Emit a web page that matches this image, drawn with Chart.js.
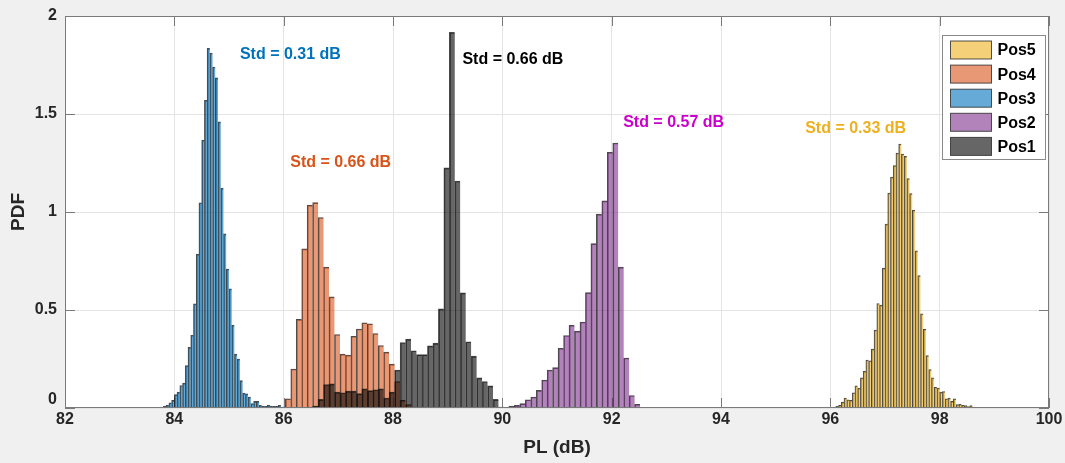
<!DOCTYPE html>
<html>
<head>
<meta charset="utf-8">
<title>PL histogram</title>
<script src="https://cdn.jsdelivr.net/npm/chart.js@4.4.1/dist/chart.umd.min.js"></script>
<style>
  html, body { margin: 0; padding: 0; background: #f0f0f0; }
  #wrap { width: 1065px; height: 463px; position: relative; }
</style>
</head>
<body>
<div id="wrap"><canvas id="plChart"></canvas></div>
<script>
// ==================== Data ====================
// each histogram: left edge of first bin, bin width (dB), PDF per bin
const pos1Start = 86.53, pos1Width = 0.1;
const pos1Pdf = [0.010, 0.044, 0.120, 0.123, 0.081, 0.078, 0.086, 0.086, 0.073, 0.098,
  0.089, 0.093, 0.098, 0.051, 0.081, 0.194, 0.334, 0.351, 0.292, 0.272,
  0.272, 0.317, 0.331, 0.506, 1.225, 1.917, 1.158, 0.587, 0.338, 0.265,
  0.154, 0.135, 0.113, 0.044, 0.005];

const pos2Start = 90.02, pos2Width = 0.1;
const pos2Pdf = [0.004, 0.010, 0.013, 0.022, 0.042, 0.056, 0.090, 0.143, 0.194, 0.206,
  0.305, 0.370, 0.422, 0.392, 0.439, 0.589, 0.839, 0.989, 1.057, 1.305,
  1.352, 0.719, 0.255, 0.064, 0.019, 0.003, 0.003, 0.003];

const pos3Start = 83.75, pos3Width = 0.05;
const pos3Pdf = [0.005, 0.010, 0.014, 0.027, 0.039, 0.068, 0.081, 0.115, 0.127, 0.216,
  0.309, 0.371, 0.532, 0.785, 1.047, 1.367, 1.570, 1.835, 1.811, 1.740,
  1.684, 1.460, 1.122, 0.888, 0.709, 0.608, 0.422, 0.275, 0.250, 0.140,
  0.076, 0.072, 0.056, 0.022, 0.034, 0.034, 0.014, 0.010, 0.008, 0.014,
  0.010, 0.008, 0.010, 0.014, 0.005];

const pos4Start = 85.93, pos4Width = 0.1;
const pos4Pdf = [0.005, 0.047, 0.199, 0.452, 0.812, 1.035, 1.048, 0.972, 0.719, 0.567,
  0.375, 0.275, 0.270, 0.366, 0.403, 0.435, 0.430, 0.380, 0.319, 0.285,
  0.224, 0.135, 0.039, 0.017, 0.005];

const pos5Start = 96.10, pos5Width = 0.05;
const pos5Pdf = [0.008, 0.014, 0.030, 0.050, 0.042, 0.039, 0.078, 0.113, 0.101, 0.154,
  0.187, 0.245, 0.241, 0.300, 0.397, 0.533, 0.525, 0.714, 0.938, 1.097,
  1.178, 1.237, 1.300, 1.347, 1.296, 1.284, 1.170, 1.094, 1.009, 0.802,
  0.675, 0.481, 0.402, 0.267, 0.196, 0.154, 0.106, 0.101, 0.081, 0.084,
  0.047, 0.050, 0.034, 0.047, 0.017, 0.019, 0.014, 0.012, 0.007, 0.012,
  0.005, 0.003];

const xRange = [82, 100];
const yRange = [0, 2];
const xStep = 2, yStep = 0.5;

// ==================== Style ====================
const FONT = "'Liberation Sans', Arial, Helvetica, sans-serif";
const AXIS_COLOR = '#262626';
const BOX_COLOR = '#7a7a7a';
const EDGE = 'rgba(15,15,15,0.75)';
const fills = {
  Pos1: 'rgba(0,0,0,0.6)',
  Pos2: 'rgba(126,47,142,0.6)',
  Pos3: 'rgba(0,114,189,0.6)',
  Pos4: 'rgba(217,83,25,0.6)',
  Pos5: 'rgba(237,177,32,0.6)'
};

// text labels placed in data units
const notes = [
  { text: 'Std = 0.31 dB', color: '#0072BD', x: 85.20, y: 1.803 },
  { text: 'Std = 0.66 dB', color: '#D95319', x: 86.12, y: 1.251 },
  { text: 'Std = 0.66 dB', color: '#000000', x: 89.27, y: 1.777 },
  { text: 'Std = 0.57 dB', color: '#CC00CC', x: 92.21, y: 1.456 },
  { text: 'Std = 0.33 dB', color: '#EDB120', x: 95.54, y: 1.423 }
];

// ==================== Helpers ====================
function binPoints(start, width, pdf) {
  return pdf.map((v, i) => ({ x: start + (i + 0.5) * width, y: v }));
}

function histSet(name, start, width, pdf) {
  return {
    label: name,
    binWidth: width,
    data: binPoints(start, width, pdf),
    backgroundColor: fills[name],
    borderColor: EDGE,
    borderWidth: { top: 1, left: 1, right: 0, bottom: 0 },
    grouped: false,
    barThickness: 1
  };
}

// ==================== Plugins ====================
const plotBg = {
  id: 'plotBg',
  beforeDraw(chart) {
    const { ctx, chartArea: a } = chart;
    ctx.save();
    ctx.fillStyle = '#f0f0f0';
    ctx.fillRect(0, 0, chart.width, chart.height);
    ctx.fillStyle = '#ffffff';
    ctx.fillRect(a.left, a.top, a.right - a.left, a.bottom - a.top);
    ctx.restore();
  }
};

// matlab style ticks pointing inwards, on all four sides
const innerTicks = {
  id: 'innerTicks',
  beforeDatasetsDraw(chart) {
    const { ctx, chartArea: a, scales } = chart;
    const len = 10;
    ctx.save();
    ctx.strokeStyle = BOX_COLOR;
    ctx.lineWidth = 1;
    ctx.beginPath();
    scales.x.ticks.forEach(t => {
      const px = Math.round(scales.x.getPixelForValue(t.value)) + 0.5;
      ctx.moveTo(px, a.bottom); ctx.lineTo(px, a.bottom - len);
      ctx.moveTo(px, a.top); ctx.lineTo(px, a.top + len);
    });
    scales.y.ticks.forEach(t => {
      const py = Math.round(scales.y.getPixelForValue(t.value)) + 0.5;
      ctx.moveTo(a.left, py); ctx.lineTo(a.left + len, py);
      ctx.moveTo(a.right, py); ctx.lineTo(a.right - len, py);
    });
    ctx.stroke();
    ctx.restore();
  },
  afterDatasetsDraw(chart) {
    const { ctx, chartArea: a } = chart;
    ctx.save();
    ctx.strokeStyle = BOX_COLOR;
    ctx.lineWidth = 1;
    ctx.strokeRect(Math.round(a.left) + 0.5, Math.round(a.top) + 0.5,
      Math.round(a.right - a.left) - 1, Math.round(a.bottom - a.top) - 1);
    ctx.restore();
  }
};

const stdNotes = {
  id: 'stdNotes',
  afterDatasetsDraw(chart) {
    const { ctx, scales } = chart;
    ctx.save();
    ctx.font = 'bold 16px ' + FONT;
    ctx.textAlign = 'left';
    ctx.textBaseline = 'middle';
    notes.forEach(n => {
      ctx.fillStyle = n.color;
      ctx.fillText(n.text, scales.x.getPixelForValue(n.x), scales.y.getPixelForValue(n.y));
    });
    ctx.restore();
  }
};

// legend box in the upper right corner, Pos5 on top
const boxLegend = {
  id: 'boxLegend',
  afterDraw(chart) {
    const { ctx, chartArea: a } = chart;
    const sets = chart.data.datasets.slice().reverse();
    const bx = a.right - 106.5, by = a.top + 19.5, bw = 103, bh = 124;
    ctx.save();
    ctx.fillStyle = '#ffffff';
    ctx.fillRect(bx, by, bw, bh);
    ctx.strokeStyle = '#8a8a8a';
    ctx.lineWidth = 1;
    ctx.strokeRect(bx, by, bw, bh);
    ctx.font = 'bold 16px ' + FONT;
    ctx.textBaseline = 'middle';
    ctx.textAlign = 'left';
    sets.forEach((ds, i) => {
      const cy = by + 14.5 + i * 24.1;
      ctx.fillStyle = ds.backgroundColor;
      ctx.fillRect(bx + 8, cy - 9, 41, 18);
      ctx.strokeStyle = 'rgba(40,40,40,0.8)';
      ctx.strokeRect(bx + 8, cy - 9, 41, 18);
      ctx.fillStyle = '#000000';
      ctx.fillText(ds.label, bx + 55, cy + 1);
    });
    ctx.restore();
  }
};

// ==================== Chart ====================
const chart = new Chart(document.getElementById('plChart').getContext('2d'), {
  type: 'bar',
  data: {
    // first dataset is drawn last, so Pos1 sits on top like the original
    datasets: [
      histSet('Pos1', pos1Start, pos1Width, pos1Pdf),
      histSet('Pos2', pos2Start, pos2Width, pos2Pdf),
      histSet('Pos3', pos3Start, pos3Width, pos3Pdf),
      histSet('Pos4', pos4Start, pos4Width, pos4Pdf),
      histSet('Pos5', pos5Start, pos5Width, pos5Pdf)
    ]
  },
  options: {
    responsive: true,
    maintainAspectRatio: false,
    animation: false,
    layout: { padding: { left: 0, right: 16, top: 13, bottom: 0 } },
    plugins: { legend: { display: false }, tooltip: { enabled: false } },
    scales: {
      x: {
        type: 'linear', position: 'bottom', min: xRange[0], max: xRange[1],
        offset: false,
        grid: { color: '#e4e4e4', offset: false, drawTicks: false },
        border: { display: false },
        ticks: {
          stepSize: xStep, padding: 2, color: AXIS_COLOR, autoSkip: false, maxRotation: 0,
          font: { family: FONT, size: 16, weight: 'bold' }
        },
        title: {
          display: true, text: 'PL (dB)', color: AXIS_COLOR,
          font: { family: FONT, size: 19, weight: 'bold' },
          padding: { top: 0, bottom: 4 }
        },
        afterFit: s => { s.height = 55; }
      },
      y: {
        min: yRange[0], max: yRange[1], stacked: false,
        grid: { color: '#e4e4e4', drawTicks: false },
        border: { display: false },
        ticks: {
          stepSize: yStep, padding: 8, color: AXIS_COLOR,
          font: { family: FONT, size: 16, weight: 'bold', lineHeight: 1 },
          // zero label sits a little above the corner in the original
          callback: v => v === 0 ? ['0', ''] : String(v)
        },
        title: {
          display: true, text: 'PDF', color: AXIS_COLOR,
          font: { family: FONT, size: 19, weight: 'bold' },
          padding: { top: 7, bottom: 0 }
        },
        afterFit: s => { s.width = 65; }
      }
    }
  },
  plugins: [plotBg, innerTicks, stdNotes, boxLegend]
});

// bar width = bin width in pixels, taken from the x scale once it is laid out
const xs = chart.scales.x;
const unitPx = xs.getPixelForValue(xRange[0] + 1) - xs.getPixelForValue(xRange[0]);
chart.data.datasets.forEach(ds => { ds.barThickness = ds.binWidth * unitPx; });
chart.update();
</script>
</body>
</html>
